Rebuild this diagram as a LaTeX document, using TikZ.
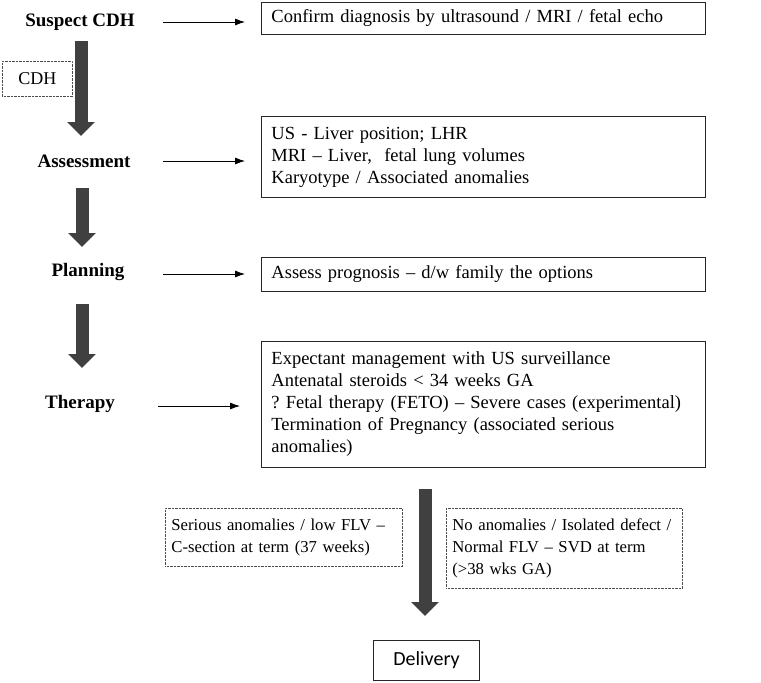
\documentclass[tikz,border=0pt]{standalone}
\usepackage{fontspec}
\setmainfont{Liberation Serif}
\newfontfamily\deliveryfont{Carlito}
\usetikzlibrary{arrows.meta}
\definecolor{arrowgray}{HTML}{404040}
\frenchspacing
\begin{document}
\begin{tikzpicture}[x=1pt,y=-1pt,
  lbl/.style={font=\fontsize{19}{22}\selectfont\bfseries, inner sep=0pt},
  box/.style={draw=black!85, line width=0.9pt, anchor=north west,
    font=\fontsize{18.5}{22}\selectfont, align=left, inner xsep=10pt, inner ysep=0pt},
  dotbox/.style={draw=black!70, line width=0.8pt, dash pattern=on 0.7pt off 0.7pt,
    anchor=north west, font=\fontsize{16.7}{21.7}\selectfont, align=left,
    inner xsep=6pt, inner ysep=0pt},
  thinarrow/.style={line width=0.8pt, -{Latex[length=10pt,width=7pt]}},
  bigarrow/.style={draw=arrowgray, line width=13pt,
    -{Triangle[width=27pt,length=14pt]}}]
\useasboundingbox (0,0) rectangle (761,683);

% left labels
\node[lbl] (suspect) at (80,22) {Suspect CDH};
\node[lbl] (assess) at (84,161) {Assessment};
\node[lbl] (plan) at (88,272) {Planning};
\node[lbl] (therapy) at (80,404) {Therapy};

% CDH dotted box
\node[dotbox, font=\fontsize{18}{22}\selectfont, align=center, text width=58pt,
  minimum height=35pt] (cdh) at (2,61) {CDH};

% right boxes
\node[box, text width=424pt, minimum height=32pt] (b1) at (261,2)
  {Confirm diagnosis by ultrasound / MRI / fetal echo};
\node[box, text width=424pt, minimum height=81pt] (b2) at (261,116)
  {US - Liver position; LHR\\ MRI -- Liver,\ \ fetal lung volumes\\ Karyotype / Associated anomalies};
\node[box, text width=424pt, minimum height=34pt] (b3) at (261,257)
  {Assess prognosis -- d/w family the options};
\node[box, text width=424pt, minimum height=126pt] (b4) at (261,341)
  {Expectant management with US surveillance\\
   Antenatal steroids < 34 weeks GA\\
   ? Fetal therapy (FETO) -- Severe cases (experimental)\\
   Termination of Pregnancy (associated serious\\
   anomalies)};

% delivery options
\node[dotbox, text width=225pt, minimum height=58pt] (opt1) at (165,508)
  {Serious anomalies / low FLV --\\ C-section at term (37 weeks)};
\node[dotbox, text width=224pt, minimum height=80pt] (opt2) at (446,508)
  {No anomalies / Isolated defect /\\ Normal FLV -- SVD at term\\ (>38 wks GA)};

% delivery
\node[draw=black!85, line width=0.9pt, anchor=north west, minimum width=106pt,
  minimum height=40pt, inner sep=0pt, font=\deliveryfont\fontsize{20}{24}\selectfont]
  (deliv) at (373,640) {Delivery};

% thin arrows
\coordinate (s1) at (163,22);
\coordinate (s2) at (163,161);
\coordinate (s3) at (163,274);
\coordinate (s4) at (158,406);
\draw[thinarrow, shorten >=16pt] (s1) -- (s1 -| b1.west);
\draw[thinarrow, shorten >=16pt] (s2) -- (s2 -| b2.west);
\draw[thinarrow, shorten >=16pt] (s3) -- (s3 -| b3.west);
\draw[thinarrow, shorten >=21pt] (s4) -- (s4 -| b4.west);

% big arrows
\coordinate (t1) at (81,41);   \coordinate (h1) at (81,136);
\coordinate (t2) at (82,188);  \coordinate (h2) at (82,247);
\coordinate (t3) at (82,304);  \coordinate (h3) at (82,368);
\coordinate (t4) at (425,489);
\draw[bigarrow] (t1) -- (h1);
\draw[bigarrow] (t2) -- (h2);
\draw[bigarrow] (t3) -- (h3);
\draw[bigarrow, shorten >=24pt] (t4) -- (t4 |- deliv.north);
\end{tikzpicture}
\end{document}
